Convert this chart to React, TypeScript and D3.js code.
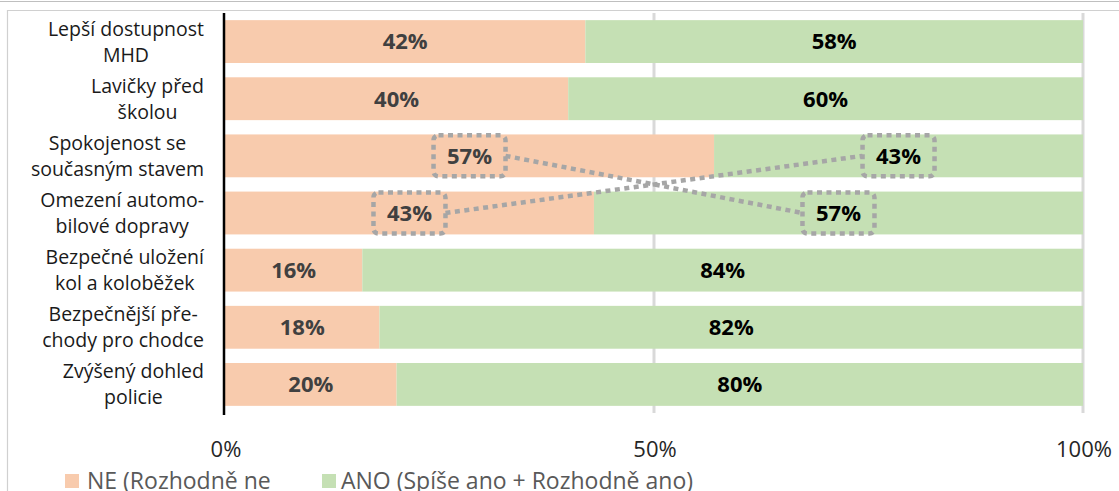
import React, { useMemo } from "react";
import * as d3 from "d3";

const categories: string[][] = [
  ["Lepší dostupnost", "MHD"],
  ["Lavičky před", "školou"],
  ["Spokojenost se", "současným stavem"],
  ["Omezení automo-", "bilové dopravy"],
  ["Bezpečné uložení", "kol a koloběžek"],
  ["Bezpečnější pře-", "chody pro chodce"],
  ["Zvýšený dohled", "policie"],
];
const neValues = [42, 40, 57, 43, 16, 18, 20];
const anoValues = [58, 60, 43, 57, 84, 82, 80];
const highlightRows = [2, 3];
const tickValues = [0, 50, 100];
const legendLabels = ["NE (Rozhodně ne", "ANO (Spíše ano + Rozhodně ano)"];

const W = 1119;
const H = 491;
const FONT = "'Open Sans', 'Noto Sans', sans-serif";
const NE_COLOR = "#f8cbad";
const ANO_COLOR = "#c5e0b4";
const DASH_COLOR = "#a6a6a6";
const CAT_FONT_SIZE = 19.5;

function measure(text: string, font: string): number {
  if (typeof document === "undefined") return text.length * 9;
  const c = document.createElement("canvas");
  const ctx = c.getContext("2d");
  if (!ctx) return text.length * 9;
  ctx.font = font;
  return ctx.measureText(text).width;
}

export default function App() {
  const x = d3.scaleLinear().domain([0, 100]).range([225, 1083]);
  const y = d3
    .scaleBand<number>()
    .domain(d3.range(categories.length))
    .range([13, 413])
    .paddingInner(0.25)
    .paddingOuter(0.125);

  const labelWidths = useMemo(
    () =>
      categories.map((lines) =>
        Math.max(...lines.map((l) => measure(l, `${CAT_FONT_SIZE}px 'Open Sans'`)))
      ),
    []
  );

  const bw = y.bandwidth();
  const boxW = 72;
  const boxH = 41;

  const neCenter = (i: number) => (x(0) + x(neValues[i])) / 2;
  const anoCenter = (i: number) =>
    (x(neValues[i]) + x(neValues[i] + anoValues[i])) / 2;
  const rowMid = (i: number) => (y(i) as number) + bw / 2;

  const [r1, r2] = highlightRows;

  return (
    <div style={{ position: "absolute", left: 0, top: 0, width: W, height: H }}>
      <svg width={W} height={H} style={{ display: "block", fontFamily: FONT }}>
        <rect x={0} y={0} width={W} height={H} fill="#ffffff" />
        {/* frame */}
        <line x1={0} x2={W} y1={1.5} y2={1.5} stroke="#bfbfbf" strokeWidth={1.2} />
        <line x1={7} x2={W} y1={10.5} y2={10.5} stroke="#d0d0d0" strokeWidth={1.2} />
        <line x1={7.5} x2={7.5} y1={10} y2={H} stroke="#d0d0d0" strokeWidth={1.2} />

        {/* gridlines */}
        {tickValues
          .filter((t) => t > 0)
          .map((t) => (
            <line
              key={t}
              x1={x(t)}
              x2={x(t)}
              y1={13}
              y2={413}
              stroke="#d9d9d9"
              strokeWidth={3}
            />
          ))}

        {/* bars */}
        {categories.map((_, i) => (
          <g key={i}>
            <rect
              x={x(0)}
              y={y(i)}
              width={x(neValues[i]) - x(0)}
              height={bw}
              fill={NE_COLOR}
            />
            <rect
              x={x(neValues[i])}
              y={y(i)}
              width={x(neValues[i] + anoValues[i]) - x(neValues[i])}
              height={bw}
              fill={ANO_COLOR}
            />
            <text
              x={neCenter(i)}
              y={rowMid(i)}
              dy="0.36em"
              textAnchor="middle"
              fontSize={22}
              fontWeight={700}
              fill="#404040"
            >
              {neValues[i]}%
            </text>
            <text
              x={anoCenter(i)}
              y={rowMid(i)}
              dy="0.36em"
              textAnchor="middle"
              fontSize={22}
              fontWeight={700}
              fill="#000000"
            >
              {anoValues[i]}%
            </text>
          </g>
        ))}

        {/* axis line */}
        <line x1={224} x2={224} y1={13} y2={415} stroke="#000" strokeWidth={2.5} />

        {/* category labels */}
        {categories.map((lines, i) => {
          const cx = 204 - labelWidths[i] / 2;
          return (
            <text key={i} textAnchor="middle" fontSize={CAT_FONT_SIZE} fill="#1a1a1a">
              {lines.map((l, k) => (
                <tspan key={k} x={cx} y={rowMid(i) - 13 + k * 26 + 7}>
                  {l}
                </tspan>
              ))}
            </text>
          );
        })}

        {/* ticks */}
        {tickValues.map((t) => (
          <text
            key={t}
            x={x(t) + 1}
            y={457}
            textAnchor="middle"
            fontSize={22}
            fill="#262626"
          >
            {t}%
          </text>
        ))}

        {/* dashed annotation */}
        <g fill="none" stroke={DASH_COLOR} strokeWidth={4.5} strokeDasharray="5 4.5">
          {[
            [neCenter(r1), rowMid(r1)],
            [anoCenter(r1), rowMid(r1)],
            [neCenter(r2), rowMid(r2)],
            [anoCenter(r2), rowMid(r2)],
          ].map(([cx, cy], k) => (
            <rect
              key={k}
              x={cx - boxW / 2}
              y={cy - boxH / 2}
              width={boxW}
              height={boxH}
              rx={5}
            />
          ))}
          <line
            x1={neCenter(r1) + boxW / 2}
            y1={rowMid(r1)}
            x2={anoCenter(r2) - boxW / 2}
            y2={rowMid(r2)}
          />
          <line
            x1={neCenter(r2) + boxW / 2}
            y1={rowMid(r2)}
            x2={anoCenter(r1) - boxW / 2}
            y2={rowMid(r1)}
          />
        </g>

        {/* legend */}
        <rect x={65} y={474} width={14} height={14} fill={NE_COLOR} />
        <text x={87} y={489} fontSize={23} fill="#595959">
          {legendLabels[0]}
        </text>
        <rect x={322} y={474} width={14} height={14} fill={ANO_COLOR} />
        <text x={341} y={489} fontSize={23} fill="#595959">
          {legendLabels[1]}
        </text>
      </svg>
    </div>
  );
}
